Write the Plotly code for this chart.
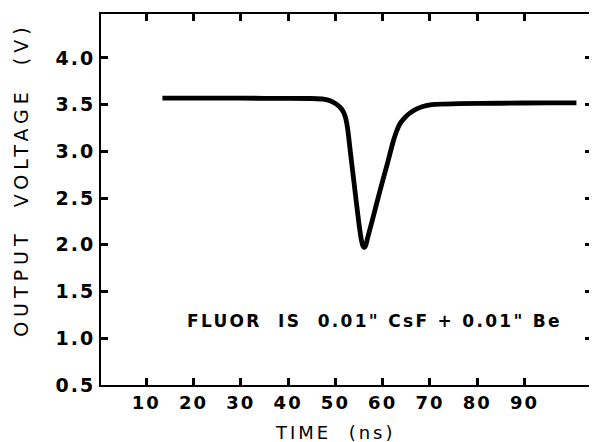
import plotly.graph_objects as go

# Data
time_ns = [13.4, 25, 35, 45, 47.5, 49.0, 50.2, 51.2, 51.8, 52.2, 52.6, 53.2, 54.0, 55.0, 55.5,
           55.8, 56.1, 56.4, 56.8, 58.0, 59.5, 61.0, 62.2, 62.9, 63.6, 64.5, 65.5, 67.0,
           68.5, 70.4, 76, 85, 95, 101]
voltage_v = [3.57, 3.57, 3.568, 3.566, 3.56, 3.54, 3.505, 3.46, 3.41, 3.35, 3.24, 2.98, 2.64,
             2.22, 2.05, 1.99, 1.97, 1.99, 2.07, 2.30, 2.59, 2.87, 3.10, 3.21, 3.29, 3.35,
             3.40, 3.45, 3.48, 3.50, 3.51, 3.515, 3.52, 3.52]

x_ticks = [10, 20, 30, 40, 50, 60, 70, 80, 90]
y_ticks = [0.5, 1.0, 1.5, 2.0, 2.5, 3.0, 3.5, 4.0]
y_tick_labels = ["0.5", "1.0", "1.5", "2.0", "2.5", "3.0", "3.5", "4.0"]
x_title = "TIME  (ns)"
y_title = "OUTPUT  VOLTAGE  (V)"
note = "FLUOR  IS  0.01\" CsF + 0.01\" Be"

X_RANGE = [0.4, 104.3]
Y_RANGE = [0.5, 4.47]
FONT = "DejaVu Sans"


def spaced(t, px):
    return '<span style="letter-spacing:%spx">%s</span>' % (px, t)


fig = go.Figure()
fig.add_trace(go.Scatter(
    x=time_ns, y=voltage_v, mode="lines",
    line=dict(color="black", width=4.8, shape="spline", smoothing=0.5),
    showlegend=False, hoverinfo="skip",
))
# empty trace so that the top/right tick axes exist
fig.add_trace(go.Scatter(x=[], y=[], xaxis="x2", yaxis="y2",
                         showlegend=False, hoverinfo="skip"))

tick_style = dict(ticks="inside", ticklen=7, tickwidth=3, tickcolor="black",
                  showgrid=False, zeroline=False)

fig.update_layout(
    xaxis=dict(
        range=X_RANGE, tickmode="array", tickvals=x_ticks,
        ticktext=[spaced(str(v), 2) for v in x_ticks],
        showline=True, linecolor="black", linewidth=2, mirror=True,
        tickfont=dict(family=FONT, size=18, color="black", weight="bold"),
        **tick_style,
    ),
    yaxis=dict(
        range=Y_RANGE, tickmode="array", tickvals=y_ticks,
        ticktext=[spaced(t, 2) for t in y_tick_labels],
        showline=True, linecolor="black", linewidth=2, mirror=True,
        tickfont=dict(family=FONT, size=19, color="black", weight="bold"),
        **tick_style,
    ),
    xaxis2=dict(
        range=X_RANGE, tickmode="array", tickvals=x_ticks,
        overlaying="x", side="top", anchor="y2", showticklabels=False,
        showline=False, **tick_style,
    ),
    yaxis2=dict(
        range=Y_RANGE, tickmode="array", tickvals=y_ticks,
        overlaying="y", side="right", anchor="x2", showticklabels=False,
        showline=False, **tick_style,
    ),
)

fig.add_annotation(
    x=0.5, y=0, xref="paper", yref="paper", xanchor="center", yanchor="middle",
    yshift=-47, xshift=-12,
    text=spaced(x_title, 3), showarrow=False,
    font=dict(family=FONT, size=18, color="black"),
)
fig.add_annotation(
    x=0, y=0.553, xref="paper", yref="paper", xanchor="center", yanchor="middle",
    xshift=-80, textangle=-90,
    text=spaced(y_title, 5), showarrow=False,
    font=dict(family=FONT, size=19, color="black"),
)
fig.add_annotation(
    x=58.2, y=1.18, xref="x", yref="y", xanchor="center", yanchor="middle",
    text=spaced(note, 2.3), showarrow=False,
    font=dict(family=FONT, size=17, color="black", weight="bold"),
)

# The page body adds an 8px offset, so the figure is 8px smaller on each axis.
fig.update_layout(
    width=589, height=434,
    margin=dict(l=93, r=3, t=6, b=57),
    paper_bgcolor="white", plot_bgcolor="white",
)

fig.write_html("out.html")
